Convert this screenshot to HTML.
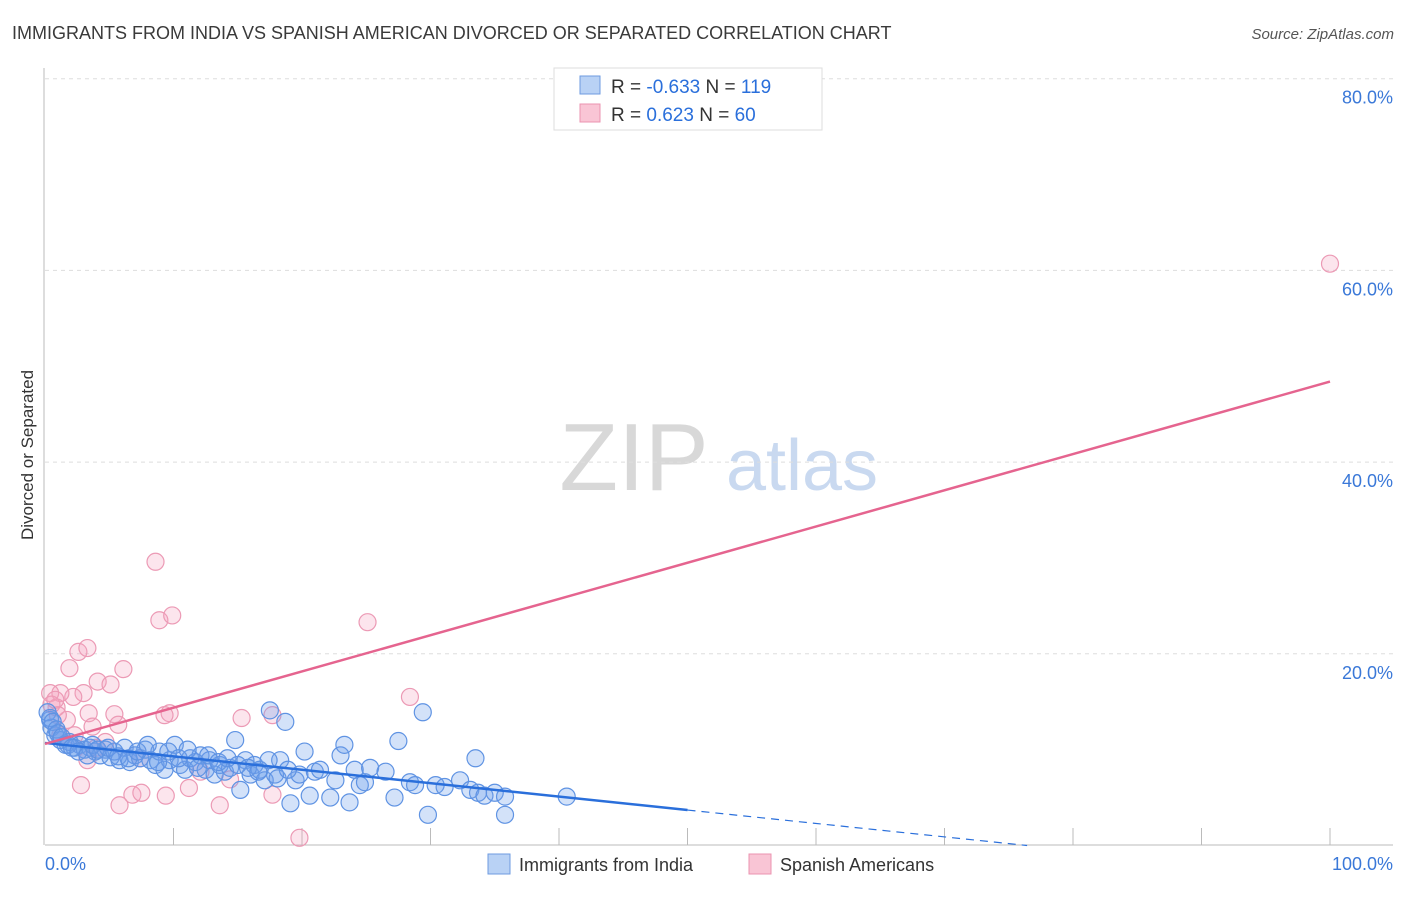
<!DOCTYPE html>
<html><head><meta charset="utf-8"><style>
body{margin:0;background:#fff;font-family:"Liberation Sans",sans-serif}
svg text{font-family:"Liberation Sans",sans-serif}
</style></head><body>
<svg id="chart" width="1406" height="892" xmlns="http://www.w3.org/2000/svg">
<text x="12" y="39" font-size="18" fill="#3a3a3a">IMMIGRANTS FROM INDIA VS SPANISH AMERICAN DIVORCED OR SEPARATED CORRELATION CHART</text>
<text x="1394" y="39" font-size="15" fill="#555" text-anchor="end" font-style="italic">Source: ZipAtlas.com</text>
<g>
<text x="634" y="490" font-size="96" fill="#d8d8d8" text-anchor="middle" font-family="Liberation Serif,serif">ZIP</text>
<text x="802" y="490" font-size="72" fill="#c9d9f0" text-anchor="middle">atlas</text>
</g>
<g id="grid"></g>
<g id="axes"></g>
<g id="pts"></g>
<g id="lines"></g>
<text transform="translate(33,455) rotate(-90)" font-size="17" fill="#333" text-anchor="middle">Divorced or Separated</text>
<g>
<rect x="554" y="68" width="268" height="62" fill="#fff" stroke="#ddd"/>
<rect x="580" y="76" width="20" height="18" fill="#b9d2f5" stroke="#6e9be0"/>
<rect x="580" y="104" width="20" height="18" fill="#f9c5d5" stroke="#eb93b0"/>
<text x="611" y="93" font-size="19" fill="#333">R = <tspan fill="#2a6fdb">-0.633</tspan>   N = <tspan fill="#2a6fdb">119</tspan></text>
<text x="611" y="121" font-size="19" fill="#333">R =   <tspan fill="#2a6fdb">0.623</tspan>   N =  <tspan fill="#2a6fdb">60</tspan></text>
</g>
<g>
<rect x="488" y="854" width="22" height="20" fill="#b9d2f5" stroke="#6e9be0"/>
<text x="519" y="871" font-size="18" fill="#333">Immigrants from India</text>
<rect x="749" y="854" width="22" height="20" fill="#f9c5d5" stroke="#eb93b0"/>
<text x="780" y="871" font-size="18" fill="#333">Spanish Americans</text>
</g>
</svg>
<script>
const yTicks=[20,40,60,80];
const yTickLabels=["20.0%","40.0%","60.0%","80.0%"];
const xTickVals=[10,20,30,40,50,60,70,80,90,100];
const indiaX=[0.4,0.5,0.8,1.2,1.6,1.9,2.3,2.7,3.1,3.5,3.9,4.3,4.7,5.1,5.4,5.8,6.2,6.6,7.0,7.4,7.8,8.2,8.6,8.9,9.3,9.7,10.1,10.5,10.9,11.3,11.7,12.1,12.5,12.8,13.2,13.6,14.0,14.4,14.8,15.2,15.6,16.0,16.3,16.7,17.1,17.5,17.9,18.3,18.7,19.1,19.5,19.8,20.2,20.6,21.0,21.4,22.2,22.6,23.0,23.3,23.7,24.1,24.5,24.9,25.3,26.5,27.2,27.5,28.4,28.8,29.4,29.8,30.4,31.1,32.3,33.1,33.5,33.7,34.2,35.0,35.8,35.8,40.6,0.2,0.4,0.6,0.9,1.0,1.3,1.8,2.1,2.6,3.3,3.7,4.1,4.9,5.7,6.5,7.2,8.0,8.8,9.6,10.4,11.1,11.9,12.7,13.5,14.2,15.0,15.8,16.6,17.4,18.1,18.9];
const indiaY=[13.1,12.3,11.5,11.0,10.5,10.8,10.2,10.5,10.0,10.2,9.8,9.4,10.0,9.2,9.8,8.9,10.2,8.7,9.4,9.1,10.0,8.9,8.4,9.8,7.9,8.9,10.5,8.4,7.9,9.1,8.7,9.4,7.9,8.9,7.4,8.4,7.7,8.1,11.0,5.8,8.9,7.4,8.4,7.9,6.8,14.1,7.4,8.9,12.9,4.4,6.8,7.4,9.8,5.2,7.7,7.9,5.0,6.8,9.4,10.5,4.5,7.9,6.3,6.6,8.1,7.7,5.0,10.9,6.6,6.3,13.9,3.2,6.3,6.1,6.8,5.8,9.1,5.5,5.2,5.5,3.2,5.1,5.1,13.9,13.3,12.9,12.1,11.7,11.3,10.5,10.2,9.8,9.4,10.5,10.0,10.2,9.3,9.1,9.8,10.5,8.7,9.8,9.1,10.0,8.1,9.4,8.7,9.1,8.4,8.1,7.7,8.9,7.0,7.9];
const spanX=[8.6,8.9,9.9,2.6,3.3,1.9,6.1,4.1,5.1,3.0,2.2,1.2,0.4,3.4,5.4,9.7,15.3,17.7,3.3,2.8,5.8,6.8,7.5,9.4,11.2,13.6,17.7,19.8,5.7,3.7,0.9,1.7,4.0,1.2,1.0,0.5,0.8,25.1,28.4,100,14.4,9.3,4.7,2.3,7.4,12.1];
const spanY=[29.6,23.5,24.0,20.2,20.6,18.5,18.4,17.1,16.8,15.9,15.5,15.9,15.9,13.8,13.7,13.8,13.3,13.6,8.9,6.3,4.2,5.3,5.5,5.2,6.0,4.2,5.3,0.8,12.6,12.4,14.4,13.1,10.2,11.5,13.6,14.7,15.2,23.3,15.5,60.7,6.9,13.6,10.8,11.5,9.1,7.7];
const indiaFit=[10.7,-0.14];
const spanFit=[10.6,0.378];
const NS="http://www.w3.org/2000/svg";
const X=v=>45+v*12.85, Y=v=>845.5-v*9.585;
function mk(t,a,p){const e=document.createElementNS(NS,t);for(const k in a)e.setAttribute(k,a[k]);p.appendChild(e);return e;}
const grid=document.getElementById('grid'),axes=document.getElementById('axes');
yTicks.forEach((v,i)=>{
 const l=mk('line',{x1:45,x2:1393,y1:Y(v),y2:Y(v),stroke:'#ddd','stroke-dasharray':'4,4'},grid);
 
 
 const t=mk('text',{x:1393,y:Y(v)+25,'font-size':18,fill:'#3a78d8','text-anchor':'end'},grid);t.textContent=yTickLabels[i];
 
 
});
const xa=mk('line',{x1:45,x2:1393,y1:845,y2:845,stroke:'#bbb'},axes);


const ya=mk('line',{x1:44,x2:44,y1:68,y2:845,stroke:'#bbb'},axes);


xTickVals.forEach(v=>{const l=mk('line',{x1:X(v),x2:X(v),y1:828,y2:845,stroke:'#bbb'},axes);
 
 });
let t0=mk('text',{x:45,y:870,'font-size':18,fill:'#3a78d8'},axes);t0.textContent='0.0%';


let t1=mk('text',{x:1393,y:870,'font-size':18,fill:'#3a78d8','text-anchor':'end'},axes);t1.textContent='100.0%';


const pts=document.getElementById('pts');
spanX.forEach((x,i)=>{const c=mk('circle',{cx:X(x),cy:Y(spanY[i]),r:8.5,fill:'rgba(244,160,190,0.28)',stroke:'#ec9ab5','stroke-width':1.2},pts);
 
 });
indiaX.forEach((x,i)=>{const c=mk('circle',{cx:X(x),cy:Y(indiaY[i]),r:8.5,fill:'rgba(110,160,235,0.3)',stroke:'#5f93e3','stroke-width':1.2},pts);
 
 });
const lines=document.getElementById('lines');
const fi=x=>indiaFit[0]+indiaFit[1]*x, fs=x=>spanFit[0]+spanFit[1]*x;
const xEnd=-indiaFit[0]/indiaFit[1];
let l1=mk('line',{x1:X(0),y1:Y(fi(0)),x2:X(50),y2:Y(fi(50)),stroke:'#2a6fdb','stroke-width':2.5},lines);


let l2=mk('line',{x1:X(50),y1:Y(fi(50)),x2:X(xEnd),y2:Y(0),stroke:'#2a6fdb','stroke-width':1.2,'stroke-dasharray':'8,6'},lines);


let l3=mk('line',{x1:X(0),y1:Y(fs(0)),x2:X(100),y2:Y(fs(100)),stroke:'#e5648f','stroke-width':2.5},lines);


</script>
</body></html>
